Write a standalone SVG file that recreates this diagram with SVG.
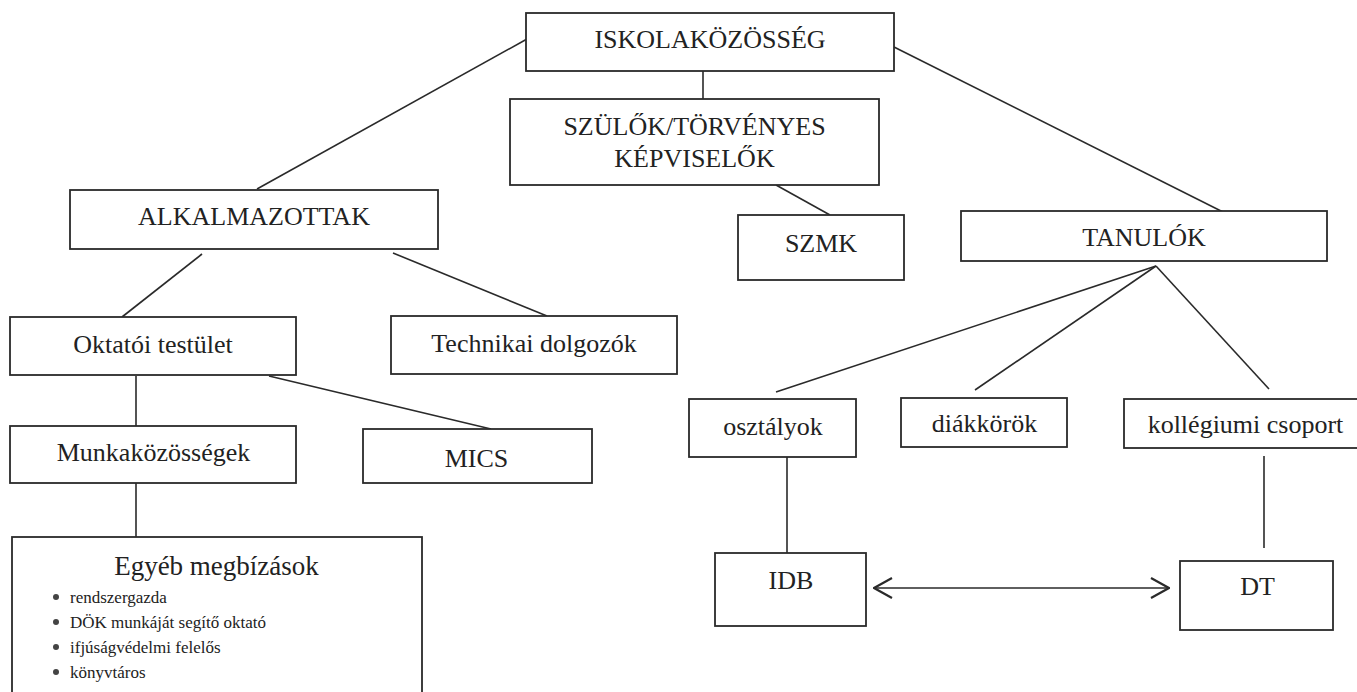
<svg xmlns="http://www.w3.org/2000/svg" width="1357" height="692" viewBox="0 0 1357 692">
<style>
.box{fill:#fff;stroke:#2a2a2a;stroke-width:1.8}
.t{font-family:"Liberation Serif","Times New Roman",serif;font-size:26px;fill:#222;text-anchor:middle}
.b{font-family:"Liberation Serif","Times New Roman",serif;font-size:17px;fill:#222}
.ln{stroke:#2a2a2a;stroke-width:1.6;fill:none}
</style>
<defs>
<marker id="chev" markerUnits="userSpaceOnUse" viewBox="0 0 20 22" refX="19" refY="11" markerWidth="20" markerHeight="22" orient="auto-start-reverse">
<path d="M1,1 L19,11 L1,21" fill="none" stroke="#2a2a2a" stroke-width="2.2"/>
</marker>
</defs>
<rect width="1357" height="692" fill="#fff"/>
<g id="connectors">
<line class="ln" x1="527" y1="39" x2="257" y2="189"/>
<line class="ln" x1="703" y1="71" x2="703" y2="99"/>
<line class="ln" x1="894" y1="47" x2="1225" y2="213"/>
<line class="ln" x1="776" y1="185" x2="830" y2="215"/>
<line class="ln" x1="202" y1="254" x2="122" y2="317"/>
<line class="ln" x1="393" y1="253" x2="547" y2="316"/>
<line class="ln" x1="136" y1="376" x2="136" y2="426"/>
<line class="ln" x1="269" y1="376" x2="491" y2="429"/>
<line class="ln" x1="136" y1="483" x2="136" y2="537"/>
<line class="ln" x1="1156" y1="266" x2="776" y2="392"/>
<line class="ln" x1="1156" y1="266" x2="975" y2="390"/>
<line class="ln" x1="1156" y1="266" x2="1269" y2="389"/>
<line class="ln" x1="787" y1="457" x2="787" y2="553"/>
<line class="ln" x1="1264" y1="456" x2="1264" y2="548"/>
<line class="ln" x1="874" y1="588" x2="1169" y2="588" stroke-width="2.2" marker-start="url(#chev)" marker-end="url(#chev)"/>
</g>
<g id="iskola">
<rect class="box" x="526" y="13" width="368" height="58"/>
<text class="t" x="710" y="48">ISKOLAKÖZÖSSÉG</text>
</g>
<g id="szulok">
<rect class="box" x="510" y="99" width="369" height="86"/>
<text class="t" x="694.5" y="135">SZÜLŐK/TÖRVÉNYES</text>
<text class="t" x="694.5" y="167">KÉPVISELŐK</text>
</g>
<g id="alkalmazottak">
<rect class="box" x="70" y="190" width="368" height="59"/>
<text class="t" x="254" y="225">ALKALMAZOTTAK</text>
</g>
<g id="szmk">
<rect class="box" x="738" y="215" width="166" height="65"/>
<text class="t" x="821" y="252">SZMK</text>
</g>
<g id="tanulok">
<rect class="box" x="961" y="211" width="366" height="50"/>
<text class="t" x="1144" y="246">TANULÓK</text>
</g>
<g id="oktatoi">
<rect class="box" x="10" y="317" width="286" height="58"/>
<text class="t" x="153" y="353">Oktatói testület</text>
</g>
<g id="technikai">
<rect class="box" x="391" y="316" width="286" height="58"/>
<text class="t" x="534" y="352">Technikai dolgozók</text>
</g>
<g id="munka">
<rect class="box" x="10" y="426" width="286" height="57"/>
<text class="t" x="153.5" y="461">Munkaközösségek</text>
</g>
<g id="mics">
<rect class="box" x="363" y="429" width="229" height="54"/>
<text class="t" x="476.5" y="467">MICS</text>
</g>
<g id="egyeb">
<rect class="box" x="12" y="537" width="410" height="170"/>
<text class="t" x="216.5" y="575" style="font-size:27px">Egyéb megbízások</text>
<circle cx="56" cy="597" r="3" fill="#444"/>
<text class="b" x="70" y="603">rendszergazda</text>
<circle cx="56" cy="622" r="3" fill="#444"/>
<text class="b" x="70" y="628">DÖK munkáját segítő oktató</text>
<circle cx="56" cy="647" r="3" fill="#444"/>
<text class="b" x="70" y="653">ifjúságvédelmi felelős</text>
<circle cx="56" cy="672" r="3" fill="#444"/>
<text class="b" x="70" y="678">könyvtáros</text>
</g>
<g id="osztalyok">
<rect class="box" x="689" y="399" width="167" height="58"/>
<text class="t" x="773" y="435">osztályok</text>
</g>
<g id="diakkorok">
<rect class="box" x="901" y="398" width="166" height="49"/>
<text class="t" x="984.5" y="432">diákkörök</text>
</g>
<g id="kollegiumi">
<rect class="box" x="1124" y="399" width="250" height="49"/>
<text class="t" x="1245.5" y="433">kollégiumi csoport</text>
</g>
<g id="idb">
<rect class="box" x="715" y="553" width="151" height="73"/>
<text class="t" x="791" y="589">IDB</text>
</g>
<g id="dt">
<rect class="box" x="1180" y="561" width="153" height="69"/>
<text class="t" x="1257.5" y="595">DT</text>
</g>
</svg>
